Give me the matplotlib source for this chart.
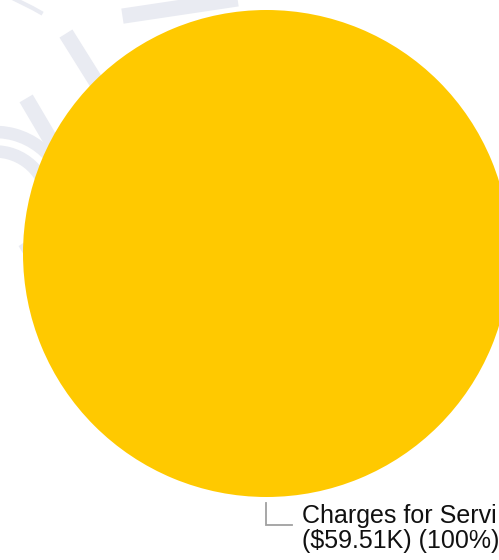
import numpy as np
import matplotlib
matplotlib.use("Agg")
import matplotlib.pyplot as plt
from matplotlib.patches import Arc

# Dados do grafico (uma unica fatia = 100%)
categorias = ["Charges for Servi"]
valores = [59.51]          # em milhares de dolares
percentuais = [100]
cores = ["#FFC900"]

W, H = 499, 560
cx_px, cy_px, r_px = 266.5, 253.5, 243.5   # centro e raio da pizza em pixels

fig = plt.figure(figsize=(W / 100, H / 100), dpi=100)
ax = fig.add_axes([0, 0, 1, 1])


def px(x, y):
    # converte pixels da imagem para coordenadas dos dados
    return (x - cx_px) / r_px, (cy_px - y) / r_px


# Marca d'agua bem clara ao fundo (selo)
marca = "#E9EBF2"
for raio, lw in [(1.62, 6), (1.50, 3)]:
    ax.add_patch(Arc(px(-140, 330), 2 * raio, 2 * raio, theta1=60, theta2=175,
                     color=marca, lw=lw, zorder=0))
for raio in [0.30, 0.22]:
    ax.add_patch(Arc(px(-5, 205), 2 * raio, 2 * raio, theta1=-60, theta2=120,
                     color=marca, lw=9, zorder=0))
ax.plot(*zip(px(70, 40), px(120, 120)), color=marca, lw=11, zorder=0)
ax.plot(*zip(px(30, 105), px(80, 190)), color=marca, lw=11, zorder=0)
ax.plot(*zip(px(130, 15), px(230, 0)), color=marca, lw=11, zorder=0)

# Pizza
wedges, _ = ax.pie(valores, colors=cores, radius=1, startangle=90,
                   counterclock=False, center=(0, 0),
                   wedgeprops=dict(linewidth=0))
for w in wedges:
    w.set_zorder(2)

# Linha guia e rotulo
for w, cat, v, p in zip(wedges, categorias, valores, percentuais):
    meio = np.deg2rad((w.theta1 + w.theta2) / 2)
    x0, y0 = np.cos(meio) * 1.025, np.sin(meio) * 1.025
    x1, y1 = np.cos(meio) * 1.115, np.sin(meio) * 1.115
    x2 = x1 + 0.105
    ax.plot([x0, x1, x2], [y0, y1, y1], color="#A0A0A0", lw=1.3, zorder=3,
            solid_joinstyle="miter")
    ax.text(x2 + 0.04, y0 - 0.003, f"{cat}\n(${v:.2f}K) ({p}%)",
            fontsize=18, family="Liberation Sans", color="#111111",
            ha="left", va="top", linespacing=1.05, zorder=3)

ax.set_xlim(-cx_px / r_px, (W - cx_px) / r_px)
ax.set_ylim((cy_px - H) / r_px, cy_px / r_px)
ax.set_aspect("equal")
ax.axis("off")

fig.savefig("out.png", dpi=100)
